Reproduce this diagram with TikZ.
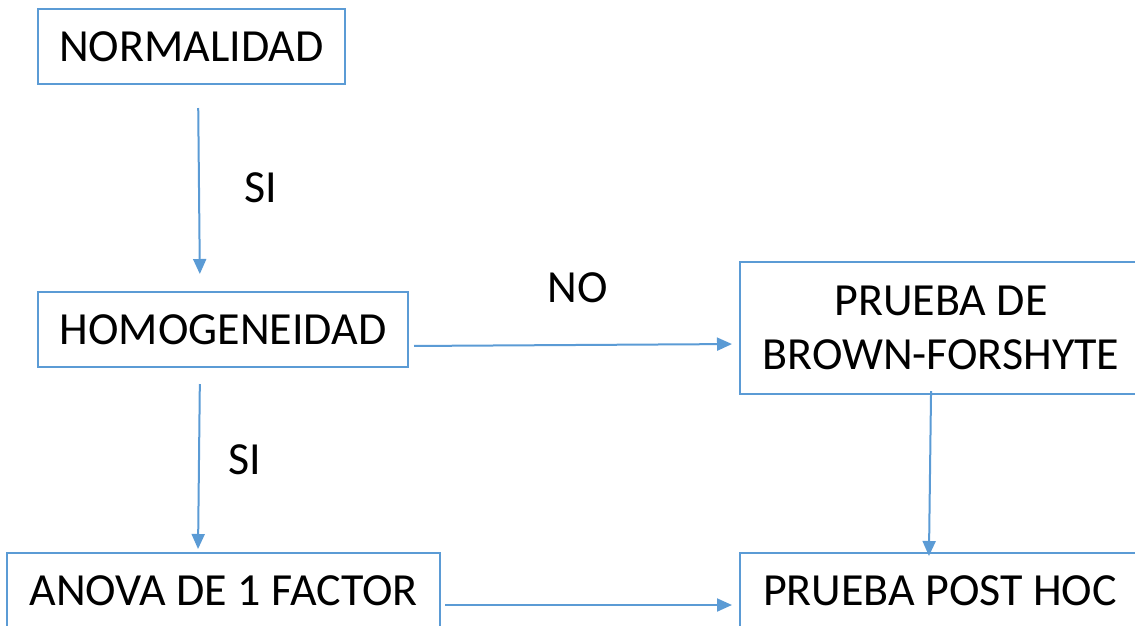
\documentclass[tikz,border=0pt]{standalone}
\usepackage{fontspec}
\setmainfont{Carlito}
\usetikzlibrary{arrows.meta}
\definecolor{boxblue}{HTML}{5B9BD5}

\begin{document}
\begin{tikzpicture}[x=1pt, y=-1pt,
  box/.style={draw=boxblue, line width=2pt, inner sep=0pt, align=center, font=\fontsize{46}{54}\selectfont},
  link/.style={draw=boxblue, line width=2pt, -{Triangle[length=15pt, width=13pt]}},
  lbl/.style={font=\fontsize{46}{54}\selectfont},
]
  \useasboundingbox (0,0) rectangle (1135,625);
  \clip (0,0) rectangle (1135,625);

  \node[box, minimum width=307pt, minimum height=75pt] (norm) at (191.5, 46.5) {NORMALIDAD};
  \node[box, minimum width=370pt, minimum height=75pt] (homo) at (223, 329.5) {HOMOGENEIDAD};
  \node[box, minimum width=402pt, minimum height=132pt] (brown) at (941, 328) {PRUEBA DE\\BROWN-FORSHYTE};
  \node[box, minimum width=433pt, minimum height=75pt] (anova) at (223.5, 590.5) {ANOVA DE 1 FACTOR};
  \node[box, minimum width=400pt, minimum height=75pt] (posthoc) at (940, 590.5) {PRUEBA POST HOC};

  % connectors
  \draw[link, shorten <=23pt, shorten >=17pt] ([xshift=6.5pt]norm.south) -- ([xshift=-23pt]homo.north)
    node[lbl, pos=0.5, xshift=62pt] (si1) {SI};
  \draw[link, shorten <=5pt, shorten >=7pt] ([yshift=-16.5pt]homo.east) -- ([yshift=-16pt]brown.west);
  \node[lbl] (no) at (578, 288) {NO};
  \draw[link, shorten <=16pt, shorten >=3pt] ([xshift=-23pt]homo.south) -- ([xshift=-25.5pt]anova.north)
    node[lbl, pos=0.5, xshift=46pt] (si2) {SI};
  \draw[link, shorten <=-4pt, shorten >=-4pt] ([xshift=-10pt]brown.south) -- ([xshift=-11pt]posthoc.north);
  \draw[link, shorten <=4pt, shorten >=7pt] ([yshift=-14.5pt]anova.east) -- ([yshift=-14.5pt]posthoc.west);
\end{tikzpicture}
\end{document}
